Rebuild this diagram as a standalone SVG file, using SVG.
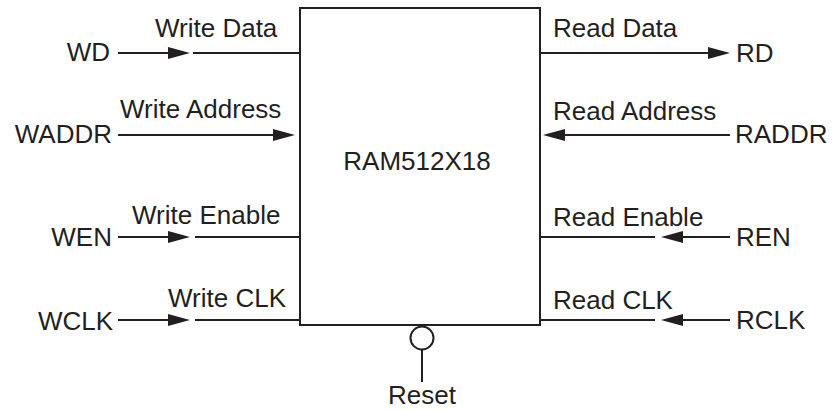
<svg xmlns="http://www.w3.org/2000/svg" width="833" height="410" viewBox="0 0 833 410">
<style>
text{font-family:"Liberation Sans",Arial,sans-serif;font-size:26px;fill:#231f20}
.w{stroke:#231f20;stroke-width:2;fill:none}
.e{text-anchor:end}
.m{text-anchor:middle}
</style>
<defs>
<marker id="arr" viewBox="0 0 22 12" refX="18" refY="6" markerWidth="22" markerHeight="12" markerUnits="userSpaceOnUse" orient="auto">
<path d="M0,0 L22,6 L0,12 z" fill="#231f20"/>
</marker>
</defs>
<rect width="833" height="410" fill="#fff"/>
<g id="ram">
<rect x="300" y="8" width="240" height="317" class="w"/>
<text x="417" y="170" class="m">RAM512X18</text>
</g>
<g id="WD"><text x="110" y="61" class="e">WD</text></g>
<g id="WADDR"><text x="112" y="143" class="e">WADDR</text></g>
<g id="WEN"><text x="112" y="246" class="e">WEN</text></g>
<g id="WCLK"><text x="113" y="330" class="e">WCLK</text></g>
<g id="RD"><text x="736" y="62">RD</text></g>
<g id="RADDR"><text x="735" y="143">RADDR</text></g>
<g id="REN"><text x="736" y="246">REN</text></g>
<g id="RCLK"><text x="736" y="329">RCLK</text></g>
<g id="Reset">
<circle cx="422" cy="338" r="11.5" class="w"/>
<text x="422" y="404" class="m">Reset</text>
</g>
<g id="connectors">
<path d="M118,53 H186" class="w" marker-end="url(#arr)"/>
<path d="M193,53 H300" class="w"/>
<text x="155" y="37">Write Data</text>
<path d="M118,135 H291" class="w" marker-end="url(#arr)"/>
<text x="120" y="118">Write Address</text>
<path d="M118,237 H186" class="w" marker-end="url(#arr)"/>
<path d="M195,237 H300" class="w"/>
<text x="132" y="224">Write Enable</text>
<path d="M118,320 H186" class="w" marker-end="url(#arr)"/>
<path d="M195,320 H300" class="w"/>
<text x="168" y="307">Write CLK</text>
<path d="M540,53 H726" class="w" marker-end="url(#arr)"/>
<text x="553" y="37">Read Data</text>
<path d="M730,135 H547" class="w" marker-end="url(#arr)"/>
<text x="553" y="120">Read Address</text>
<path d="M730,237 H665" class="w" marker-end="url(#arr)"/>
<path d="M655,237 H540" class="w"/>
<text x="553" y="226">Read Enable</text>
<path d="M730,320 H665" class="w" marker-end="url(#arr)"/>
<path d="M655,320 H540" class="w"/>
<text x="553" y="309">Read CLK</text>
<path d="M422,350 V382" class="w"/>
</g>
</svg>
